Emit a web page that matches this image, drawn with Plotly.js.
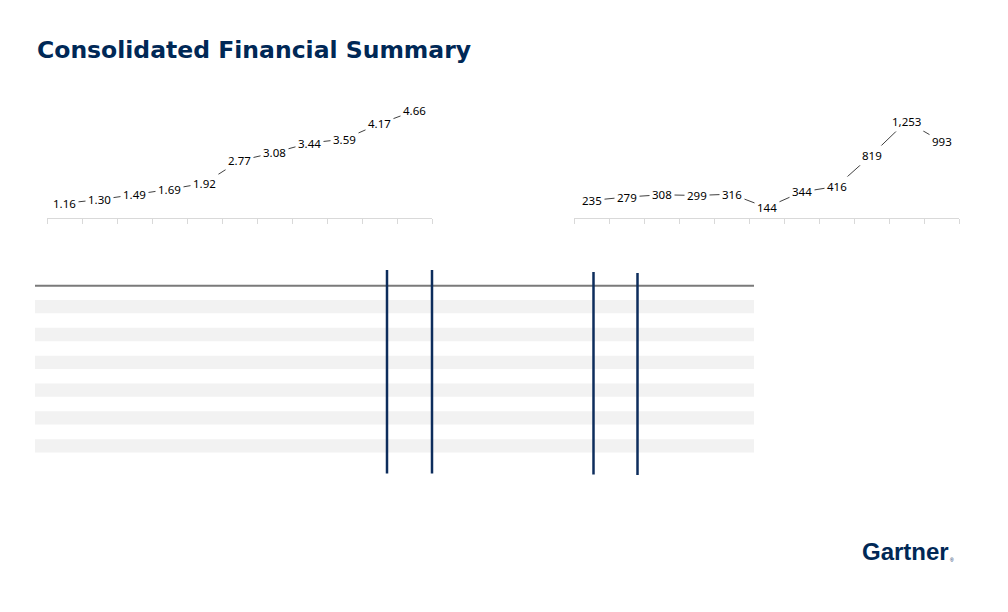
<!DOCTYPE html>
<html>
<head>
<meta charset="utf-8">
<script src="https://cdn.plot.ly/plotly-3.0.1.min.js"></script>
<style>
  html, body { margin: 0; padding: 0; background: #ffffff; }
  #chart { width: 1008px; height: 612px; }
</style>
</head>
<body>
<div id="chart"></div>
<script>
// ---- data ----
const years = ["2012", "2013", "2014", "2015", "2016", "2017", "2018", "2019", "2020", "2021", "2022"];
const leftValues = [1.16, 1.30, 1.49, 1.69, 1.92, 2.77, 3.08, 3.44, 3.59, 4.17, 4.66];
const rightValues = [235, 279, 308, 299, 316, 144, 344, 416, 819, 1253, 993];
const titleText = "Consolidated Financial Summary";
const logoText = "Gartner";

// ---- layout helpers (pixels -> paper fractions) ----
const W = 1008, H = 612;
const px = x => x / W;
const py = y => 1 - y / H;

const NAVY = "#002856";
const LINE = "#404040";
const AXIS = "#d9d9d9";

const traces = [
  { x: years, y: leftValues, xaxis: "x", yaxis: "y", type: "scatter", mode: "lines",
    line: { color: LINE, width: 1 }, hoverinfo: "skip", showlegend: false },
  { x: years, y: rightValues, xaxis: "x2", yaxis: "y2", type: "scatter", mode: "lines",
    line: { color: LINE, width: 1 }, hoverinfo: "skip", showlegend: false }
];

const annotations = [];
// category axes: annotation x is the category index
leftValues.forEach((v, i) => annotations.push({
  x: i, y: v, xref: "x", yref: "y", text: v.toFixed(2), showarrow: false,
  bgcolor: "#ffffff", borderpad: 2, borderwidth: 1, bordercolor: "rgba(0,0,0,0)",
  font: { family: "Noto Sans", size: 11.5, color: "#000000" }
}));
rightValues.forEach((v, i) => annotations.push({
  x: i, y: v, xref: "x2", yref: "y2", text: v.toLocaleString("en-US"), showarrow: false,
  bgcolor: "#ffffff", borderpad: 2, borderwidth: 1, bordercolor: "rgba(0,0,0,0)",
  font: { family: "Noto Sans", size: 11.5, color: "#000000" }
}));
annotations.push({
  xref: "paper", yref: "paper", x: px(860), y: py(551), xanchor: "left", yanchor: "middle",
  text: "<b>" + logoText + "</b>", showarrow: false,
  font: { family: "Liberation Sans", size: 24, color: NAVY }
});
annotations.push({
  xref: "paper", yref: "paper", x: px(948), y: py(560), xanchor: "left", yanchor: "middle",
  text: "®", showarrow: false,
  font: { family: "Liberation Sans", size: 5, color: NAVY }
});

// ---- table decoration (empty table frame) ----
const shapes = [];
for (let k = 0; k < 6; k++) {
  const top = 300 + 27.83 * k;
  shapes.push({ type: "rect", xref: "paper", yref: "paper", layer: "below",
    x0: px(35), x1: px(754), y0: py(top), y1: py(top + 13.3),
    fillcolor: "#f2f2f2", line: { width: 0 } });
}
shapes.push({ type: "line", xref: "paper", yref: "paper",
  x0: px(35), x1: px(754), y0: py(285.7), y1: py(285.7),
  line: { color: "#7a7a7a", width: 2 } });
[[387, 270, 473.5], [432, 270, 473.5], [593.5, 272, 474.5], [637.5, 273, 475]].forEach(s => {
  shapes.push({ type: "line", xref: "paper", yref: "paper",
    x0: px(s[0]), x1: px(s[0]), y0: py(s[1]), y1: py(s[2]),
    line: { color: "#0d2d5c", width: 2.5 } });
});

const yDomain = [py(217.7), py(90)];
const xCommon = {
  type: "category", range: [-0.5, 10.5], tickson: "boundaries", ticks: "outside",
  ticklen: 5, tickcolor: AXIS, tickwidth: 1, showline: true, linecolor: AXIS, linewidth: 1,
  showticklabels: false, showgrid: false, zeroline: false, fixedrange: true
};
const yCommon = {
  showline: false, showgrid: false, zeroline: false, showticklabels: false, ticks: "",
  fixedrange: true
};

const layout = {
  width: W, height: H,
  margin: { l: 0, r: 0, t: 0, b: 0 },
  paper_bgcolor: "#ffffff", plot_bgcolor: "rgba(0,0,0,0)",
  showlegend: false,
  title: {
    text: "<b>" + titleText + "</b>", xref: "container", yref: "container",
    x: px(37), xanchor: "left", y: py(49.3), yanchor: "middle",
    font: { family: "DejaVu Sans", size: 23.5, color: NAVY }
  },
  xaxis: Object.assign({}, xCommon, { domain: [px(47), px(432)], anchor: "y" }),
  yaxis: Object.assign({}, yCommon, { domain: yDomain, range: [0.615, 5.447], anchor: "x" }),
  xaxis2: Object.assign({}, xCommon, { domain: [px(574), px(959)], anchor: "y2" }),
  yaxis2: Object.assign({}, yCommon, { domain: yDomain, range: [13, 1656], anchor: "x2" }),
  annotations: annotations,
  shapes: shapes
};

Plotly.newPlot("chart", traces, layout, { displayModeBar: false, staticPlot: true });
</script>
</body>
</html>
